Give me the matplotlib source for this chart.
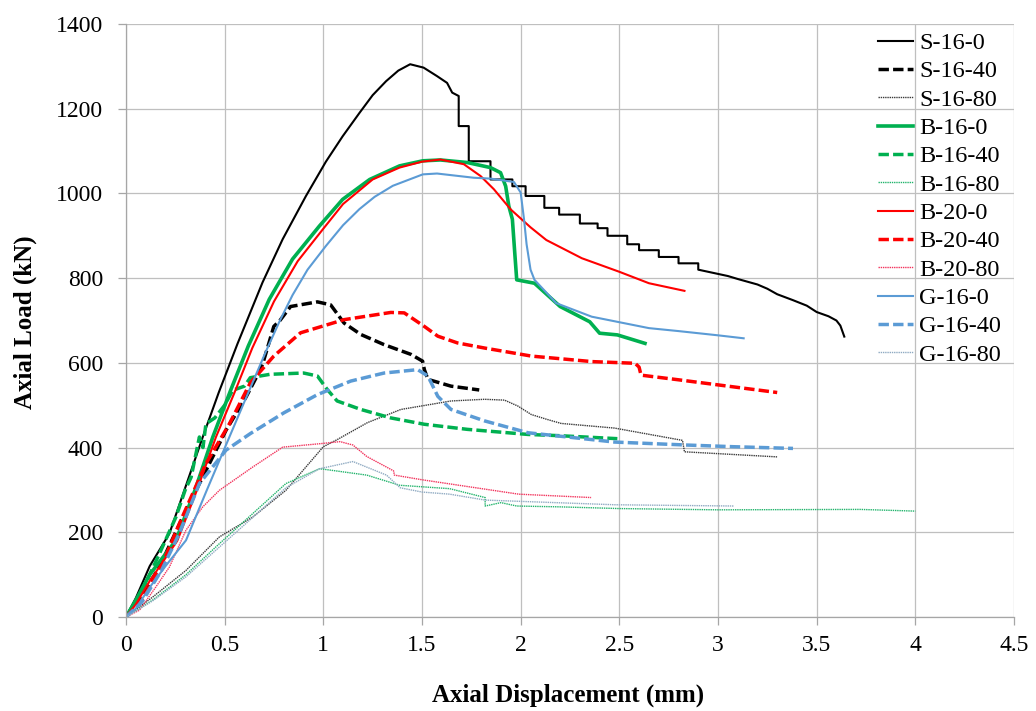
import matplotlib
matplotlib.use("Agg")
import matplotlib.pyplot as plt
from matplotlib.ticker import FuncFormatter

plt.rcParams['font.family'] = ['Liberation Serif', 'DejaVu Serif']

# ---- data (displacement mm, load kN) ----
s16_0_x = [0, 0.05, 0.12, 0.22, 0.3, 0.389, 0.47, 0.565, 0.692, 0.794, 0.912, 1.013, 1.098, 1.183,
           1.25, 1.318, 1.38, 1.44, 1.508, 1.576, 1.627, 1.653, 1.686, 1.686, 1.737, 1.737,
           1.847, 1.847, 1.958, 1.958, 2.025, 2.025, 2.12, 2.12, 2.195, 2.195, 2.30, 2.30, 2.39,
           2.39, 2.44, 2.44, 2.54, 2.54, 2.6, 2.6, 2.7, 2.7, 2.8, 2.8, 2.9, 2.9, 3.0, 3.05, 3.1,
           3.2, 3.25, 3.3, 3.38, 3.45, 3.5, 3.56, 3.6, 3.62, 3.64]
s16_0_y = [0, 45, 120, 197, 305, 425, 530, 645, 790, 892, 994, 1075, 1135, 1190,
           1232, 1265, 1290, 1305, 1297, 1277, 1261, 1238, 1230, 1159, 1159, 1076,
           1076, 1033, 1033, 1017, 1017, 994, 994, 966, 966, 950, 950, 929, 929,
           918, 918, 900, 900, 880, 880, 866, 866, 850, 850, 835, 835, 820, 810, 805, 798,
           785, 775, 762, 748, 735, 720, 710, 700, 688, 662]

s16_40_x = [0, 0.08, 0.169, 0.304, 0.372, 0.507, 0.608, 0.664, 0.693, 0.72, 0.749, 0.78, 0.834,
            0.97, 1.037, 1.105, 1.19, 1.308, 1.444, 1.503, 1.512, 1.53, 1.647, 1.79]
s16_40_y = [0, 50, 118, 252, 315, 441, 519, 569, 598, 640, 686, 700, 733,
            744, 737, 694, 667, 643, 620, 604, 584, 561, 545, 536]

s16_80_x = [0, 0.135, 0.304, 0.473, 0.642, 0.81, 1.0, 1.071, 1.224, 1.393, 1.647, 1.817, 1.918,
            1.986, 2.054, 2.13, 2.205, 2.476, 2.82, 2.83, 3.3]
s16_80_y = [0, 47, 110, 189, 236, 299, 402, 419, 459, 490, 510, 514, 512,
            498, 478, 467, 457, 446, 417, 390, 378]

b16_0_x = [0, 0.05, 0.12, 0.253, 0.35, 0.44, 0.53, 0.62, 0.726, 0.844, 0.98, 1.098, 1.235, 1.386,
           1.504, 1.593, 1.729, 1.847, 1.898, 1.924, 1.94, 1.958, 1.97, 1.98, 2.07, 2.2, 2.35,
           2.4, 2.49, 2.63]
b16_0_y = [0, 40, 100, 181, 300, 425, 535, 640, 750, 845, 923, 986, 1033, 1065,
           1077, 1079, 1073, 1061, 1049, 1017, 970, 939, 860, 796, 788, 733, 697,
           670, 666, 646]

b16_40_x = [0, 0.08, 0.17, 0.253, 0.3, 0.33, 0.372, 0.39, 0.405, 0.45, 0.5, 0.54, 0.6, 0.63, 0.73,
            0.9, 0.97, 1.02, 1.07, 1.19, 1.342, 1.512, 1.73, 2.037, 2.2, 2.49]
b16_40_y = [0, 60, 150, 236, 300, 330, 425, 400, 456, 470, 500, 535, 545, 565, 573,
            576, 569, 537, 510, 490, 470, 455, 443, 431, 428, 421]

b16_80_x = [0, 0.135, 0.304, 0.473, 0.642, 0.81, 0.98, 1.0, 1.22, 1.387, 1.64, 1.82, 1.82, 1.9,
            1.98, 2.2, 2.5, 3.0, 3.72, 4.0]
b16_80_y = [0, 40, 100, 173, 244, 315, 350, 349, 335, 311, 303, 282, 262, 270,
            262, 260, 256, 253, 254, 250]

b20_0_x = [0, 0.05, 0.12, 0.26, 0.36, 0.456, 0.55, 0.64, 0.75, 0.87, 0.997, 1.1, 1.25, 1.386,
           1.5, 1.593, 1.712, 1.797, 1.864, 1.95, 2.05, 2.13, 2.31, 2.5, 2.65, 2.83]
b20_0_y = [0, 30, 85, 180, 300, 425, 530, 635, 745, 840, 915, 975, 1033, 1061,
           1075, 1080, 1069, 1041, 1010, 962, 920, 890, 847, 815, 788, 770]

b20_40_x = [0, 0.08, 0.18, 0.27, 0.405, 0.524, 0.63, 0.749, 0.885, 1.105, 1.342, 1.41, 1.512, 1.58,
            1.68, 1.817, 2.054, 2.36, 2.58, 2.6, 2.61, 2.8, 3.0, 3.3]
b20_40_y = [0, 40, 120, 220, 362, 456, 553, 616, 671, 702, 719, 718, 686, 663,
            647, 635, 616, 603, 599, 590, 571, 560, 548, 530]

b20_80_x = [0, 0.068, 0.15, 0.22, 0.304, 0.389, 0.473, 0.642, 0.794, 0.98, 1.085, 1.15, 1.22,
            1.356, 1.36, 1.5, 1.99, 2.357]
b20_80_y = [0, 16, 70, 118, 205, 260, 299, 354, 401, 409, 414, 406, 379,
            345, 335, 324, 290, 282]

g16_0_x = [0, 0.05, 0.12, 0.2, 0.304, 0.41, 0.524, 0.62, 0.71, 0.78, 0.844, 0.92, 1.013, 1.1, 1.183,
           1.26, 1.352, 1.504, 1.576, 1.763, 1.847, 1.966, 2.0, 2.017, 2.03, 2.05, 2.07, 2.18,
           2.36, 2.65, 2.8, 3.0, 3.13]
g16_0_y = [0, 20, 70, 120, 181, 300, 425, 530, 628, 700, 760, 820, 876, 925, 963,
           992, 1018, 1045, 1047, 1037, 1035, 1027, 1002, 939, 880, 820, 796, 741,
           709, 682, 675, 665, 658]

g16_40_x = [0, 0.08, 0.18, 0.27, 0.372, 0.507, 0.63, 0.8, 0.97, 1.139, 1.308, 1.478, 1.53, 1.58,
            1.647, 1.817, 2.037, 2.476, 2.84, 3.08, 3.38]
g16_40_y = [0, 35, 110, 197, 315, 394, 433, 482, 525, 557, 576, 584, 569, 521,
            490, 463, 435, 413, 406, 402, 398]

g16_80_x = [0, 0.135, 0.304, 0.473, 0.642, 0.81, 0.98, 1.15, 1.32, 1.39, 1.5, 1.64, 1.82, 2.476, 3.08]
g16_80_y = [0, 38, 95, 165, 235, 305, 350, 367, 335, 305, 295, 290, 276, 265, 262]

x_ticks = [0, 0.5, 1, 1.5, 2, 2.5, 3, 3.5, 4, 4.5]
y_ticks = [0, 200, 400, 600, 800, 1000, 1200, 1400]

dash = (0, (3, 1.2))
dot = (0, (1, 0.6))

fig = plt.figure(figsize=(10.36, 7.11), dpi=100)
ax = fig.add_axes([126 / 1036, 1 - 617 / 711, 888 / 1036, 593 / 711])

ax.plot(s16_0_x, s16_0_y, color='black', lw=1.5, label='S-16-0')
ax.plot(s16_40_x, s16_40_y, color='black', lw=2.5, ls=dash, label='S-16-40')
ax.plot(s16_80_x, s16_80_y, color='#3a3a3a', lw=1.0, ls=dot, label='S-16-80')
ax.plot(b16_0_x, b16_0_y, color='#00B050', lw=2.6, label='B-16-0')
ax.plot(b16_40_x, b16_40_y, color='#00B050', lw=2.5, ls=dash, label='B-16-40')
ax.plot(b16_80_x, b16_80_y, color='#22B46C', lw=1.0, ls=dot, label='B-16-80')
ax.plot(b20_0_x, b20_0_y, color='#FF0000', lw=1.5, label='B-20-0')
ax.plot(b20_40_x, b20_40_y, color='#FF0000', lw=2.5, ls=dash, label='B-20-40')
ax.plot(b20_80_x, b20_80_y, color='#F2335C', lw=1.0, ls=dot, label='B-20-80')
ax.plot(g16_0_x, g16_0_y, color='#5B9BD5', lw=1.5, label='G-16-0')
ax.plot(g16_40_x, g16_40_y, color='#5B9BD5', lw=2.5, ls=dash, label='G-16-40')
ax.plot(g16_80_x, g16_80_y, color='#8FAAC2', lw=1.0, ls=dot, label='G-16-80')

ax.set_xlim(0, 4.5)
ax.set_ylim(0, 1400)
ax.set_xticks(x_ticks)
ax.set_yticks(y_ticks)
ax.xaxis.set_major_formatter(FuncFormatter(lambda v, p: '%g' % v))
ax.grid(True, color='#BFBFBF', lw=0.9)
ax.set_axisbelow(True)
for s in ['top', 'right']:
    ax.spines[s].set_visible(False)
for s in ['left', 'bottom']:
    ax.spines[s].set_color('#A6A6A6')
    ax.spines[s].set_linewidth(0.9)
ax.tick_params(direction='out', length=6, width=0.9, color='#A6A6A6', labelsize=17)
ax.tick_params(axis='y', pad=10.5)
ax.tick_params(axis='x', pad=7)

ax.set_xlabel('Axial Displacement (mm)', fontsize=18, fontweight='bold')
ax.set_ylabel('Axial Load (kN)', fontsize=18, fontweight='bold')
ax.xaxis.set_label_coords(0.498, -0.112)
ax.yaxis.set_label_coords(-0.100, 0.497)

leg = ax.legend(loc='upper left', bbox_to_anchor=(878 / 1036, 1 - 32 / 711),
                bbox_transform=fig.transFigure, frameon=False, fontsize=17.5,
                borderpad=0, borderaxespad=0, handlelength=1.44, handletextpad=0.25,
                labelspacing=0.26)

fig.savefig('out.png', dpi=100)
